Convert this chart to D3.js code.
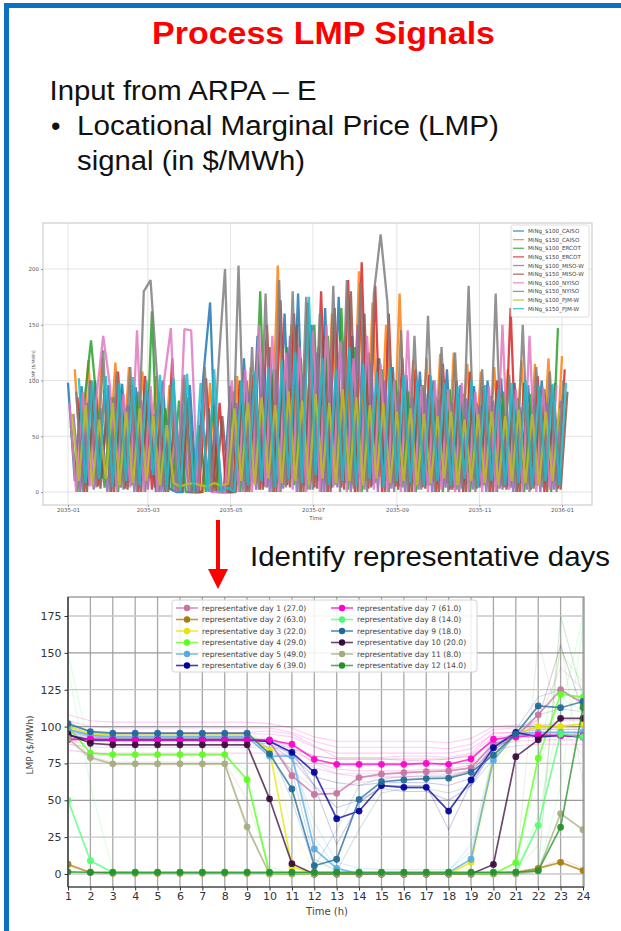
<!DOCTYPE html>
<html>
<head>
<meta charset="utf-8">
<script src="https://cdn.jsdelivr.net/npm/d3@7"></script>
<style>
  body { margin: 0; background: #fff; }
  svg { display: block; }
  .slide-text { font-family: "Liberation Sans", Arial, sans-serif; }
  .mpl { font-family: "DejaVu Sans", sans-serif; }
</style>
</head>
<body>
<svg id="slide" width="621" height="931"></svg>
<script>
// ---------------- Yearly LMP series (sampled every 5 days, $/MWh) ----------------
const yearSeriesNames = [
  "MiNg_$100_CAISO", "MiNg_$150_CAISO", "MiNg_$100_ERCOT", "MiNg_$150_ERCOT",
  "MiNg_$100_MISO-W", "MiNg_$150_MISO-W", "MiNg_$100_NYISO", "MiNg_$150_NYISO",
  "MiNg_$100_PJM-W", "MiNg_$150_PJM-W"
];
// first sample day of each series (days after 2035-01-01)
const yearStartOffsets = [0, 5, 2, 7, 4, 9, 1, 6, 3, 8];
const sampleStepDays = 5;

const lmpCAISO100 = [98,10,95,6,100,12,96,5,97,8,94,10, 92,0,100,3,0,0,96,0,104,170,0,0,
  95,6,120,10,140,5,115,8,160,12,178,6, 150,10,165,4,175,8,140,12,135,6,120,10,
  112,5,105,8,108,6,100,10,110,4,96,8, 95,6,100,10,102,5,98,8,96,6,100,10,98];
const lmpCAISO150 = [110,20,118,15,120,22,116,10,112,18,108,12, 104,5,96,0,102,2,0,0,98,4,0,0,
  104,10,112,8,110,15,203,6,150,12,118,10, 130,8,160,12,140,6,198,10,170,14,150,8,
  178,12,118,15,120,10,124,8,125,18,115,12, 108,10,112,6,110,14,118,8,115,12,120,10,122];
const lmpERCOT100 = [60,0,80,136,70,4,85,0,75,6,90,0, 162,0,75,2,82,0,0,60,0,78,0,0,
  90,0,100,8,180,4,110,0,130,6,120,2, 150,0,140,6,165,2,130,0,125,8,110,0,
  100,4,90,0,96,6,85,0,92,2,88,0, 80,6,86,0,90,4,84,0,88,6,92,0,147];
const lmpERCOT150 = [85,0,100,5,92,0,108,3,96,0,104,2, 90,0,120,0,88,0,0,102,0,80,0,0,
  100,0,105,2,150,0,172,6,160,0,170,4, 180,0,165,4,190,0,206,3,185,0,160,5,
  120,0,110,4,105,0,115,2,100,0,108,3, 95,0,100,4,165,0,98,2,104,0,96,3,110];
const lmpMISOW100 = [70,0,80,2,75,0,85,4,78,0,82,2, 70,0,65,0,78,0,0,70,0,60,0,0,
  80,0,90,2,120,0,110,3,140,0,105,2, 125,0,118,4,135,0,150,2,115,0,100,3,
  90,0,85,2,88,0,82,4,80,0,84,2, 78,0,82,3,80,0,76,2,84,0,80,2,82];
const lmpMISOW150 = [75,0,88,3,80,0,92,2,85,0,90,4, 78,0,72,0,85,0,0,75,0,68,0,0,
  85,0,95,2,130,0,118,4,150,0,115,3, 140,0,125,2,180,0,160,4,120,0,108,2,
  98,0,92,3,95,0,90,2,88,0,92,4, 85,0,90,2,88,0,84,3,92,0,88,2,90];
const lmpNYISO100 = [80,0,90,5,85,140,95,0,88,4,145,0, 95,0,100,147,0,146,145,0,98,0,0,0,
  100,0,110,0,150,4,140,0,125,2,130,0, 145,0,150,4,135,0,120,0,140,2,115,0,
  100,0,145,0,95,0,100,2,92,0,98,0, 90,0,95,0,150,2,92,0,140,0,94,2,96];
const lmpNYISO150 = [90,0,100,4,127,0,108,2,112,0,180,190, 100,0,95,0,105,0,0,112,0,110,200,0,
  203,0,130,2,178,0,190,4,180,0,175,2, 160,0,185,0,190,3,188,0,178,231,170,0,
  145,0,140,2,158,0,130,0,125,3,185,0, 110,0,178,2,105,0,150,0,112,4,108,0,100];
const lmpPJMW100 = [70,10,78,5,65,12,80,6,72,8,75,10, 68,6,60,8,5,7,8,6,5,8,6,7,
  75,10,80,6,85,12,78,8,90,10,82,6, 88,12,80,8,92,10,85,6,78,12,80,8,
  72,10,75,6,70,8,68,12,72,6,65,10, 70,8,72,6,68,10,74,8,70,6,72,10,75];
const lmpPJMW150 = [102,8,100,12,104,5,98,10,103,6,100,15, 105,2,102,0,106,0,98,1,110,0,4,0,
  100,6,108,10,112,4,118,12,125,8,175,15, 120,6,110,10,130,5,115,12,108,4,112,10,
  105,8,100,6,104,10,98,5,95,12,100,4, 96,10,92,6,98,8,100,4,95,10,97,6,98];

const yearValues = [lmpCAISO100, lmpCAISO150, lmpERCOT100, lmpERCOT150, lmpMISOW100,
  lmpMISOW150, lmpNYISO100, lmpNYISO150, lmpPJMW100, lmpPJMW150];
const yearColors = ["#1f77b4", "#ff7f0e", "#2ca02c", "#d62728", "#9467bd",
  "#8c564b", "#e377c2", "#7f7f7f", "#bcbd22", "#17becf"];
const monthTickLabels = ["2035-01", "2035-03", "2035-05", "2035-07", "2035-09", "2035-11", "2036-01"];
const yearYTicks = [0, 50, 100, 150, 200];

// ---------------- Representative days (hourly LMP, $/MWh) ----------------
const hours = d3.range(1, 25);
const repDay1  = [92,91,91,91,91,91,91,91,91,90,66.7,54,54.7,65.4,67.8,68.7,69.4,69.9,72,88,93,108,125,116];
const repDay2  = [6.6,1,0.5,0.5,0.5,0.5,0.5,0.5,0.5,0.5,0.5,0.5,0.5,0.5,0.5,0.5,0.5,0.5,0.5,0.5,1,3.8,7.9,2.3];
const repDay3  = [100,95,94,94,94,94,94,94,94,84,5,0,0,0,0,0,0,0,8,80,95,100,100,102];
const repDay4  = [100,82,81,81,81,81,81,81,64,0,0,0,0,0,0,0,0,0,0,0,7.7,78.5,122,120];
const repDay5  = [98,94,93,93,93,93,93,93,93,80,80,17,3.8,0,0,0,0,1,10,77,95,96,96,96];
const repDay6  = [94,91,91,91,91,91,91,91,91,90,82.5,69,37.5,42.7,60,58.8,58.8,42.7,63.8,85.7,96,93,94,93];
const repDay7  = [91,91.6,91,91,91,91,91,91,91,91,88,77.8,74.4,74.4,74.4,74.4,75,74.4,78,91.4,93,94.3,93.8,93.8];
const repDay8  = [50,9,1,1,1,1,1,1,1,1,1,1,1,1,1,1,1,1,1,1,1,33,95,93];
const repDay9  = [102,96.6,95.5,95.5,95.5,95.5,95.5,95.5,95.5,81.5,57.7,5.6,10,50.6,62.6,63.8,64.7,65,69,80.7,95,114,112.8,117];
const repDay10 = [95,88.7,87.6,87.6,87.6,87.6,87.6,87.6,87.6,51,7,0,0,0,0,0,0,0,0,6.5,79.6,91,105.6,105.6];
const repDay11 = [92,79,74.7,74.7,74.7,74.7,74.7,74.7,32,0,0,0,0,0,0,0,0,0,0,0,0,2,41,30];
const repDay12 = [1.5,1.2,1.2,1.2,1.2,1.2,1.2,1.2,1.2,1.2,1.2,1.2,1.2,1.2,1.2,1.2,1.2,1.2,1.2,1.2,1.2,2.3,31.7,113];
const repDays = [repDay1, repDay2, repDay3, repDay4, repDay5, repDay6,
  repDay7, repDay8, repDay9, repDay10, repDay11, repDay12];
const repCounts = [27.0, 63.0, 22.0, 29.0, 49.0, 39.0, 61.0, 14.0, 18.0, 20.0, 8.0, 14.0];
const repColors = ["#c573a3", "#a87c0a", "#e6e600", "#5cff1f", "#55a9e6", "#00009c",
  "#ff00cc", "#4dff70", "#1d6a98", "#3a0a3c", "#a6ab7e", "#23902a"];

// member days of each cluster drawn faintly behind (cluster index, hourly values)
const memberCluster = [6, 6, 6, 6, 0, 5, 4, 8, 5, 7, 3, 11, 7, 10, 9, 1, 7, 2, 6, 8,
  6, 6, 0, 5, 4, 10];
const memberDays = [
  [96,95,95,95,95,95,95,95,95,95,93,86,82,82,82,82,82,82,85,95,96,96,96,96],
  [88,86,86,86,86,86,86,86,86,86,84,76,71,70,70,70,71,71,74,88,90,91,91,91],
  [104,100,99,99,99,99,99,99,99,99,96,90,86,86,86,86,86,85,88,98,99,99,99,99],
  [100,97,96,96,96,96,96,96,96,97,95,87,79,79,79,80,80,79,82,96,96,98,98,98],
  [97,93,92,92,92,92,92,92,92,92,86,75,68,68,68,68,68,68,70,90,95,100,104,104],
  [94,91,91,91,91,91,91,91,91,90,80,66,62,60,62,62,62,60,65,88,95,95,95,95],
  [100,95,94,94,94,94,94,94,94,85,78,35,8,4,3,3,3,3,15,80,95,98,98,98],
  [99,94,93,93,93,93,93,93,93,88,70,10,2,30,55,58,58,55,60,78,96,108,112,110],
  [96,93,92,92,92,92,92,92,92,90,83,60,20,48,60,60,60,30,62,84,95,100,100,100],
  [150,82,81,81,81,81,81,81,70,2,1,1,1,1,1,1,1,1,1,1,5,70,120,110],
  [100,82,81,81,81,81,81,81,64,0,0,0,0,0,0,0,0,0,0,0,8,80,150,130],
  [1,1,1,1,1,1,1,1,1,1,1,1,1,1,1,1,1,1,1,1,1,2,175,120],
  [1,1,1,1,1,1,1,1,1,1,1,1,1,1,1,1,1,1,1,1,1,40,110,175],
  [90,78,74,74,74,74,74,74,30,0,0,0,0,0,0,0,0,0,0,0,1,158,100,80],
  [95,92,92,92,92,92,92,92,92,90,85,80,78,78,78,78,78,78,80,90,95,105,155,110],
  [5,1,1,1,1,1,1,1,1,1,1,1,1,1,1,1,1,1,1,1,2,4,10,4],
  [140,60,2,1,1,1,1,1,1,1,1,1,1,1,1,1,1,1,1,1,1,1,60,168],
  [100,96,95,95,95,95,95,95,95,90,30,2,0,0,0,0,0,0,5,70,94,98,100,100],
  [92,90,90,90,90,90,90,90,90,90,87,80,78,78,78,77,77,78,81,93,94,94,94,94],
  [98,95,95,95,95,95,95,95,95,85,50,5,30,60,65,66,66,66,70,85,98,120,125,115],
  [108,104,103,103,103,103,103,103,103,102,99,93,90,90,90,90,90,89,92,100,101,101,101,101],
  [84,82,82,82,82,82,82,82,82,82,80,72,68,66,66,66,67,67,70,84,87,88,88,88],
  [90,88,88,88,88,88,88,88,88,86,70,58,58,62,64,66,66,66,70,86,92,104,140,125],
  [92,90,90,90,90,90,90,90,90,88,78,60,45,50,58,56,56,50,60,84,94,92,94,92],
  [104,96,95,95,95,95,95,95,95,88,82,25,4,1,1,1,1,2,20,82,97,98,100,99],
  [95,80,76,76,76,76,76,76,50,5,0,0,0,0,0,0,0,0,0,0,2,20,160,60]
];
const lmpYTicks = [0, 25, 50, 75, 100, 125, 150, 175];

// ---------------- Slide ----------------
const svg = d3.select("#slide");
const frameBlue = "#0b70c4";
svg.append("rect").attr("x", 4).attr("y", 3).attr("width", 617).attr("height", 5).attr("fill", frameBlue);
svg.append("rect").attr("x", 4).attr("y", 3).attr("width", 5).attr("height", 928).attr("fill", frameBlue);

function slideText(txt, x, y, size, len, opts = {}) {
  const t = svg.append("text").attr("class", "slide-text")
    .attr("x", x).attr("y", y).attr("font-size", size)
    .attr("fill", opts.fill || "#111").attr("font-weight", opts.bold ? "bold" : "normal")
    .text(txt);
  if (len) t.attr("textLength", len).attr("lengthAdjust", "spacingAndGlyphs");
  return t;
}
slideText("Process LMP Signals", 152, 44, 31, 343, { fill: "#ff0000", bold: true });
slideText("Input from ARPA \u2013 E", 49.5, 100, 27, 267);
slideText("\u2022", 51, 135, 27);
slideText("Locational Marginal Price (LMP)", 77, 135, 27, 422);
slideText("signal (in $/MWh)", 77, 170, 27, 228);
slideText("Identify representative days", 250, 566, 27, 360);

// down arrow
svg.append("path")
  .attr("d", "M216,520 L220,520 L220,569 L228,569 L218,589 L208,569 L216,569 Z")
  .attr("fill", "#ff0000");

// ---------------- Yearly chart ----------------
const topBox = { left: 43, right: 592, top: 223, bottom: 505 };
const parseMonth = d3.timeParse("%Y-%m");
const yearStart = parseMonth("2035-01");
const xTop = d3.scaleTime().domain([yearStart, parseMonth("2036-01")]).range([68, 562]);
const yTop = d3.scaleLinear().domain([0, 200]).range([492, 269]);

const gTop = svg.append("g").attr("class", "mpl");
gTop.append("rect").attr("x", topBox.left).attr("y", topBox.top)
  .attr("width", topBox.right - topBox.left).attr("height", topBox.bottom - topBox.top)
  .attr("fill", "#fff");
const monthDates = monthTickLabels.map(parseMonth);
gTop.selectAll("line.vg").data(monthDates).join("line").attr("class", "vg")
  .attr("x1", d => xTop(d)).attr("x2", d => xTop(d))
  .attr("y1", topBox.top).attr("y2", topBox.bottom)
  .attr("stroke", "#dcdcdc").attr("stroke-width", 0.8);
gTop.selectAll("line.hg").data(yearYTicks).join("line").attr("class", "hg")
  .attr("x1", topBox.left).attr("x2", topBox.right)
  .attr("y1", d => yTop(d)).attr("y2", d => yTop(d))
  .attr("stroke", "#dcdcdc").attr("stroke-width", 0.8);

svg.append("clipPath").attr("id", "clipTop").append("rect")
  .attr("x", topBox.left).attr("y", topBox.top)
  .attr("width", topBox.right - topBox.left).attr("height", topBox.bottom - topBox.top);
const topLines = gTop.append("g").attr("clip-path", "url(#clipTop)");
const yearLine = d3.line().x(d => xTop(d[0])).y(d => yTop(d[1]));
yearValues.forEach((vals, k) => {
  const pts = vals.map((v, i) => [d3.timeDay.offset(yearStart, yearStartOffsets[k] + sampleStepDays * i), v]);
  topLines.append("path").datum(pts).attr("d", yearLine)
    .attr("fill", "none").attr("stroke", yearColors[k])
    .attr("stroke-width", 2.3).attr("stroke-opacity", 0.85)
    .attr("stroke-linejoin", "bevel");
});
gTop.append("rect").attr("x", topBox.left).attr("y", topBox.top)
  .attr("width", topBox.right - topBox.left).attr("height", topBox.bottom - topBox.top)
  .attr("fill", "none").attr("stroke", "#c4c4c4").attr("stroke-width", 1);

const axTopY = gTop.append("g").attr("transform", `translate(${topBox.left},0)`)
  .call(d3.axisLeft(yTop).tickValues(yearYTicks).tickSize(2).tickPadding(2));
const axTopX = gTop.append("g").attr("transform", `translate(0,${topBox.bottom})`)
  .call(d3.axisBottom(xTop).tickValues(monthDates).tickSize(2).tickPadding(1.5)
    .tickFormat((d, i) => monthTickLabels[i]));
[axTopY, axTopX].forEach(ax => {
  ax.select(".domain").remove();
  ax.selectAll("line").attr("stroke", "#999");
  ax.selectAll("text").attr("font-size", 5.5).attr("fill", "#555").attr("font-family", "DejaVu Sans");
});
gTop.append("text").attr("x", 316).attr("y", 520).attr("text-anchor", "middle")
  .attr("font-size", 5.5).attr("fill", "#555").text("Time");
gTop.append("text").attr("transform", "translate(35,365) rotate(-90)").attr("text-anchor", "middle")
  .attr("font-size", 4.5).attr("fill", "#555").text("LMP ($/MWh)");

// legend of yearly series
const legTop = gTop.append("g");
legTop.append("rect").attr("x", 511).attr("y", 225).attr("width", 78).attr("height", 92)
  .attr("rx", 2).attr("fill", "#fff").attr("fill-opacity", 0.85)
  .attr("stroke", "#d6d6d6").attr("stroke-width", 0.8);
yearSeriesNames.forEach((name, k) => {
  const y = 231 + 8.63 * k;
  legTop.append("line").attr("x1", 513).attr("x2", 524).attr("y1", y).attr("y2", y)
    .attr("stroke", yearColors[k]).attr("stroke-width", 1.3).attr("stroke-opacity", 0.8);
  legTop.append("text").attr("x", 528).attr("y", y + 2).attr("font-size", 5.6)
    .attr("fill", "#444").text(name);
});

// ---------------- Representative-day chart ----------------
const botBox = { left: 68, right: 584, top: 597, bottom: 887 };
const xH = d3.scaleLinear().domain([1, 24]).range([68, 583]);
const yH = d3.scaleLinear().domain([0, 175]).range([874, 616]);
const gBot = svg.append("g").attr("class", "mpl");

gBot.selectAll("line.vg").data(hours).join("line").attr("class", "vg")
  .attr("x1", d => xH(d)).attr("x2", d => xH(d))
  .attr("y1", botBox.top).attr("y2", botBox.bottom)
  .attr("stroke", "#a8a8a8").attr("stroke-width", 1.3);
gBot.selectAll("line.hg").data(lmpYTicks).join("line").attr("class", "hg")
  .attr("x1", botBox.left).attr("x2", botBox.right)
  .attr("y1", d => yH(d)).attr("y2", d => yH(d))
  .attr("stroke", d => d % 50 === 0 && d > 0 ? "#9a9a9a" : "#c8c8c8").attr("stroke-width", 1.3);

svg.append("clipPath").attr("id", "clipBot").append("rect")
  .attr("x", botBox.left).attr("y", botBox.top)
  .attr("width", botBox.right - botBox.left).attr("height", botBox.bottom - botBox.top);
const botPlot = gBot.append("g").attr("clip-path", "url(#clipBot)");
const hourLine = d3.line().x((d, i) => xH(hours[i])).y(d => yH(d));

memberDays.forEach((vals, j) => {
  botPlot.append("path").datum(vals).attr("d", hourLine)
    .attr("fill", "none").attr("stroke", repColors[memberCluster[j]])
    .attr("stroke-width", 1.1).attr("stroke-opacity", 0.2);
});
repDays.forEach((vals, k) => {
  const g = botPlot.append("g");
  g.append("path").datum(vals).attr("d", hourLine)
    .attr("fill", "none").attr("stroke", repColors[k])
    .attr("stroke-width", 1.7).attr("stroke-opacity", 0.75);
  g.selectAll("circle").data(vals).join("circle")
    .attr("cx", (d, i) => xH(hours[i])).attr("cy", d => yH(d)).attr("r", 3.4)
    .attr("fill", repColors[k]).attr("fill-opacity", 0.92);
});

gBot.append("rect").attr("x", botBox.left).attr("y", botBox.top)
  .attr("width", botBox.right - botBox.left).attr("height", botBox.bottom - botBox.top)
  .attr("fill", "none").attr("stroke", "#8a8a8a").attr("stroke-width", 1.2);
gBot.append("line").attr("x1", botBox.left).attr("x2", botBox.left)
  .attr("y1", botBox.top).attr("y2", botBox.bottom).attr("stroke", "#333").attr("stroke-width", 1.2);
gBot.append("line").attr("x1", botBox.left).attr("x2", botBox.right)
  .attr("y1", botBox.bottom).attr("y2", botBox.bottom).attr("stroke", "#333").attr("stroke-width", 1.2);

const axBotY = gBot.append("g").attr("transform", `translate(${botBox.left},0)`)
  .call(d3.axisLeft(yH).tickValues(lmpYTicks).tickSize(3.5).tickPadding(3));
const axBotX = gBot.append("g").attr("transform", `translate(0,${botBox.bottom})`)
  .call(d3.axisBottom(xH).tickValues(hours).tickSize(3.5).tickPadding(2).tickFormat(d3.format("d")));
[axBotY, axBotX].forEach(ax => {
  ax.select(".domain").remove();
  ax.selectAll("line").attr("stroke", "#333");
  ax.selectAll("text").attr("font-size", 11).attr("fill", "#333").attr("font-family", "DejaVu Sans");
});
gBot.append("text").attr("x", 327).attr("y", 915).attr("text-anchor", "middle")
  .attr("font-size", 10).attr("fill", "#444").text("Time (h)");
gBot.append("text").attr("transform", "translate(33,745) rotate(-90)").attr("text-anchor", "middle")
  .attr("font-size", 9).attr("fill", "#444").text("LMP ($/MWh)");

// legend of representative days (two columns)
const legBot = gBot.append("g");
legBot.append("rect").attr("x", 172).attr("y", 600).attr("width", 305).attr("height", 72)
  .attr("rx", 3).attr("fill", "#fff").attr("fill-opacity", 0.85)
  .attr("stroke", "#d4d4d4").attr("stroke-width", 1);
repDays.forEach((vals, k) => {
  const col = Math.floor(k / 6), row = k % 6;
  const cx = col === 0 ? 187 : 342;
  const y = 608 + 11.5 * row;
  legBot.append("line").attr("x1", cx - 11).attr("x2", cx + 11).attr("y1", y).attr("y2", y)
    .attr("stroke", repColors[k]).attr("stroke-width", 1.6).attr("stroke-opacity", 0.75);
  legBot.append("circle").attr("cx", cx).attr("cy", y).attr("r", 3.2).attr("fill", repColors[k]);
  legBot.append("text").attr("x", cx + 15).attr("y", y + 2.8).attr("font-size", 7.6)
    .attr("fill", "#444")
    .text(`representative day ${k + 1} (${repCounts[k].toFixed(1)})`);
});
</script>
</body>
</html>
